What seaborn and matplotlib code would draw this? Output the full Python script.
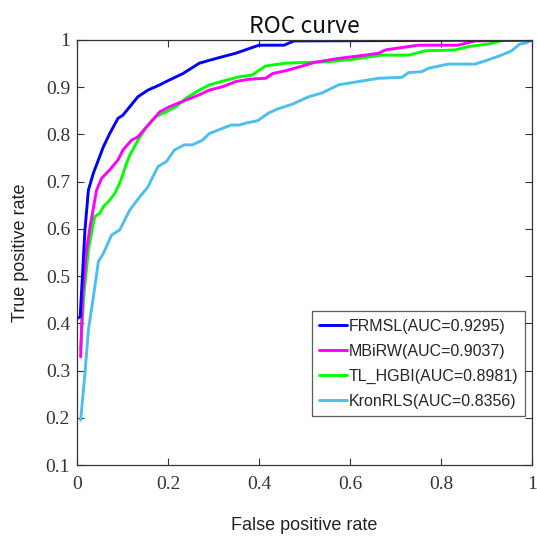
import matplotlib
matplotlib.use("Agg")
import matplotlib.pyplot as plt
import seaborn as sns
import pandas as pd

# ---- data ----
frmsl_x = [0.0, 0.007, 0.0175, 0.025, 0.036, 0.058, 0.072, 0.09, 0.101, 0.134, 0.156, 0.182, 0.196,
           0.233, 0.269, 0.306, 0.349, 0.379, 0.40, 0.455, 0.477, 1.0]
frmsl_y = [0.41, 0.414, 0.598, 0.682, 0.718, 0.774, 0.802, 0.834, 0.841, 0.880, 0.894, 0.905, 0.912,
           0.929, 0.951, 0.961, 0.972, 0.982, 0.989, 0.989, 0.998, 1.0]

mbirw_x = [0.008, 0.012, 0.02, 0.028, 0.043, 0.054, 0.072, 0.090, 0.101, 0.12, 0.134, 0.160, 0.182,
           0.204, 0.24, 0.269, 0.291, 0.32, 0.349, 0.379, 0.415, 0.43, 0.459, 0.488, 0.524, 0.575,
           0.634, 0.663, 0.678, 0.721, 0.75, 0.838, 0.875, 1.0]
mbirw_y = [0.329, 0.45, 0.55, 0.60, 0.682, 0.707, 0.725, 0.746, 0.767, 0.788, 0.795, 0.824, 0.848,
           0.859, 0.873, 0.884, 0.894, 0.901, 0.912, 0.917, 0.919, 0.929, 0.935, 0.943, 0.953, 0.961,
           0.968, 0.972, 0.979, 0.985, 0.989, 0.989, 0.998, 1.0]

tl_x = [0.008, 0.015, 0.025, 0.036, 0.039, 0.05, 0.058, 0.072, 0.083, 0.094, 0.109, 0.116, 0.134,
        0.153, 0.174, 0.196, 0.218, 0.24, 0.269, 0.291, 0.328, 0.357, 0.386, 0.40, 0.415, 0.459,
        0.554, 0.605, 0.67, 0.729, 0.765, 0.831, 0.86, 0.904, 0.94, 1.0]
tl_y = [0.343, 0.46, 0.555, 0.612, 0.626, 0.633, 0.647, 0.661, 0.675, 0.697, 0.739, 0.756, 0.788,
        0.816, 0.838, 0.848, 0.859, 0.877, 0.894, 0.905, 0.915, 0.922, 0.926, 0.936, 0.945, 0.951,
        0.954, 0.959, 0.968, 0.968, 0.977, 0.979, 0.986, 0.9915, 1.0, 1.0]

kron_x = [0.008, 0.0175, 0.025, 0.036, 0.047, 0.058, 0.076, 0.094, 0.116, 0.138, 0.156, 0.167,
          0.178, 0.196, 0.214, 0.236, 0.254, 0.276, 0.291, 0.32, 0.339, 0.357, 0.371, 0.397, 0.422,
          0.444, 0.473, 0.51, 0.539, 0.575, 0.619, 0.663, 0.714, 0.729, 0.758, 0.772, 0.816, 0.875,
          0.904, 0.933, 0.955, 0.973, 0.988, 1.0]
kron_y = [0.195, 0.294, 0.386, 0.456, 0.531, 0.548, 0.587, 0.598, 0.64, 0.668, 0.689, 0.711,
          0.732, 0.742, 0.767, 0.778, 0.778, 0.788, 0.802, 0.813, 0.82, 0.82, 0.824, 0.829, 0.846,
          0.855, 0.864, 0.88, 0.888, 0.905, 0.912, 0.919, 0.921, 0.931, 0.933, 0.94, 0.949, 0.949,
          0.958, 0.968, 0.977, 0.9915, 0.994, 1.0]

labels = ["FRMSL(AUC=0.9295)", "MBiRW(AUC=0.9037)", "TL_HGBI(AUC=0.8981)", "KronRLS(AUC=0.8356)"]
colors = ["#0000ff", "#ff00ff", "#00ff00", "#4dbeee"]
x_ticks = [0, 0.2, 0.4, 0.6, 0.8, 1]
x_tick_labels = ["0", "0.2", "0.4", "0.6", "0.8", "1"]
y_ticks = [0.1, 0.2, 0.3, 0.4, 0.5, 0.6, 0.7, 0.8, 0.9, 1.0]
y_tick_labels = ["0.1", "0.2", "0.3", "0.4", "0.5", "0.6", "0.7", "0.8", "0.9", "1"]

series = [(frmsl_x, frmsl_y), (mbirw_x, mbirw_y), (tl_x, tl_y), (kron_x, kron_y)]

sns.set_theme(style="white")
plt.rcParams["font.family"] = ["Liberation Sans", "DejaVu Sans"]

fig = plt.figure(figsize=(5.37, 5.36), dpi=100)
ax = fig.add_axes([77 / 537, 1 - 465 / 536, 455 / 537, 425 / 536])

# draw in reverse so FRMSL ends on top
order = [3, 2, 1, 0]
for i in order:
    xs, ys = series[i]
    df = pd.DataFrame({"x": xs, "y": ys})
    sns.lineplot(data=df, x="x", y="y", ax=ax, color=colors[i], linewidth=2.1,
                 sort=False, estimator=None, label=labels[i])

ax.set_xlim(0, 1)
ax.set_ylim(0.1, 1)
ax.set_xticks(x_ticks)
ax.set_xticklabels(x_tick_labels, family="Liberation Serif", fontsize=14, color="#333333")
ax.set_yticks(y_ticks)
ax.set_yticklabels(y_tick_labels, family="Liberation Serif", fontsize=14, color="#333333")
ax.tick_params(direction="in", length=5, width=0.8, color="#333333",
               top=True, right=True, bottom=True, left=True)
ax.tick_params(axis="x", pad=8)
ax.tick_params(axis="y", pad=5)
for s in ax.spines.values():
    s.set_color("#333333")
    s.set_linewidth(0.9)

ax.set_xlabel("False positive rate", fontsize=13, color="#222222", labelpad=17)
ax.set_ylabel("True positive rate", fontsize=13, color="#222222", labelpad=12)
ax.set_title("ROC curve", fontsize=16.5, color="#111111", pad=5,
             family=["Noto Sans CJK SC", "DejaVu Sans"])

handles, labs = ax.get_legend_handles_labels()
hmap = dict(zip(labs, handles))
leg = ax.legend([hmap[l] for l in labels], labels, loc="lower right",
                bbox_to_anchor=(0.985, 0.116), fontsize=11.5, frameon=True,
                fancybox=False, edgecolor="#333333", handlelength=1.75,
                handletextpad=0.1, borderpad=0.45, labelspacing=0.62, borderaxespad=0)
leg.get_frame().set_linewidth(0.9)

fig.savefig("out.png", dpi=100)
